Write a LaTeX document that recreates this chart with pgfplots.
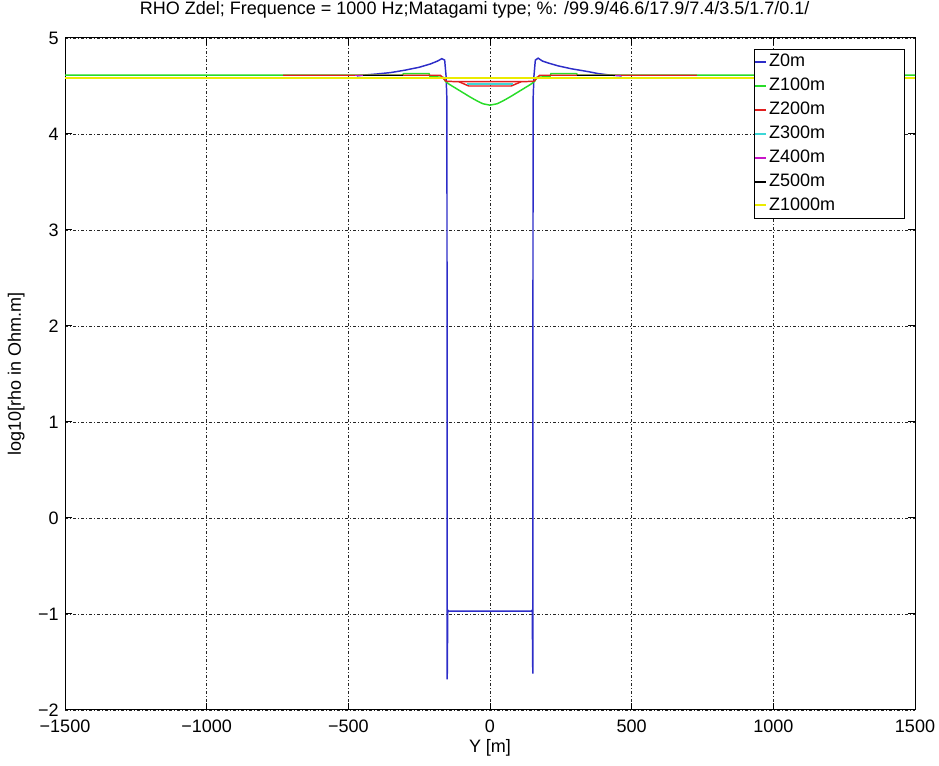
\documentclass[border=0pt]{standalone}
\usepackage{fontspec}
\setmainfont{Liberation Sans}
\usepackage{pgfplots}
\pgfplotsset{compat=1.18}
\definecolor{mblue}{RGB}{45,45,200}
\definecolor{mgreen}{RGB}{40,220,40}
\definecolor{mred}{RGB}{225,30,30}
\definecolor{mcyan}{RGB}{60,215,215}
\definecolor{mmag}{RGB}{200,20,200}
\definecolor{myellow}{RGB}{235,235,0}
\begin{document}
\fontsize{13.5}{16}\selectfont
\begin{tikzpicture}
\begin{axis}[
  scale only axis, width=637.5pt, height=504pt,
  xmin=-1500, xmax=1500, ymin=-2, ymax=5,
  xtick={-1500,-1000,-500,0,500,1000,1500},
  ytick={-2,-1,0,1,2,3,4,5},
  xticklabels={−1500,−1000,−500,0,500,1000,1500},
  yticklabels={−2,−1,0,1,2,3,4,5},
  tick align=inside, major tick length=5pt,
  xtick pos=both, ytick pos=both,
  grid=major,
  major grid style={black!85, line width=0.6pt, dash pattern=on 2.25pt off 1.5pt on 0.75pt off 1.5pt},
  axis line style={black, line width=0.75pt},
  every tick/.style={black, line width=0.75pt},
  xticklabel style={anchor=base, yshift=-17pt},
  title={RHO Zdel; Frequence = 1000 Hz;Matagami type; \%: /99.9/46.6/17.9/7.4/3.5/1.7/0.1/},
  title style={at={(axis description cs:0.482,1.0238)}, anchor=base},
  xlabel={Y [m]},
  xlabel style={at={(axis description cs:0.5,-0.0635)}, anchor=base},
  ylabel={log10[rho in Ohm.m]},
  ylabel style={at={(axis description cs:-0.0518,0.5)}, anchor=base, rotate=0},
  unbounded coords=jump,
  every axis plot/.append style={line width=1.1pt},
  legend image code/.code={\draw[#1,line width=1.5pt] (0pt,0pt) -- (8pt,0pt);},
  legend cell align=left,
  legend style={at={(axis description cs:0.9882,0.9836)}, anchor=north east,
    draw=black, line width=0.75pt, fill=white, inner xsep=0pt, inner ysep=3.5pt,
    row sep=5.9pt,
    nodes={inner ysep=0pt, inner xsep=1.5pt, text height=9.5pt, text depth=2.5pt, text width=100pt}},
]
% Z0m
\addplot[mblue] coordinates {
(-470,4.605) (-440,4.615) (-400,4.625) (-350,4.64) (-300,4.665) (-250,4.695) (-210,4.73)
(-185,4.76) (-170,4.785) (-160,4.77) (-155,4.6) (-152,4.35) (-151,-1.68) (-149,-0.96)
(-146,-0.97) (146,-0.97) (149,-0.96) (151,-1.62) (152,4.35) (155,4.6) (160,4.77) (170,4.79)
(185,4.76) (205,4.74) (240,4.71) (286,4.68) (346,4.65) (380,4.63) (420,4.615) (465,4.605)
};
\addlegendentry{Z0m}
% Z100m
\addplot[mgreen] coordinates {
(-1500,4.614) (-310,4.614) (-305,4.628) (-215,4.628) (-212,4.60) (-165,4.59) (-158,4.55)
(-145,4.52) (-120,4.475) (-95,4.43) (-70,4.385) (-46,4.345) (-25,4.315) (0,4.30)
(25,4.315) (46,4.345) (70,4.385) (95,4.43) (120,4.475) (145,4.52) (158,4.55) (165,4.59)
(212,4.60) (215,4.628) (305,4.628) (310,4.614) (1500,4.614)
};
\addlegendentry{Z100m}
% Z200m
\addplot[mred] coordinates {
(-730,4.612) (-175,4.612) (-165,4.58) (-155,4.55) (-120,4.545) (120,4.545) (155,4.55)
(165,4.58) (175,4.612) (730,4.612)
};
\addlegendentry{Z200m}
\addplot[mred, forget plot] coordinates {
(-110,4.545) (-75,4.50) (75,4.50) (110,4.545)
};
% Z300m
\addplot[mcyan] coordinates {
(-80,4.522) (80,4.522)
};
\addlegendentry{Z300m}
% Z400m
\addplot[mmag] coordinates {
(-476,4.612) (-448,4.612) (0,nan) (441,4.612) (462,4.612)
};
\addlegendentry{Z400m}
% Z500m
\addplot[black] coordinates {
(-448,4.61) (-307,4.61) (0,nan) (307,4.61) (441,4.61)
};
\addlegendentry{Z500m}
% Z1000m
\addplot[myellow] coordinates {
(-1500,4.585) (1500,4.585)
};
\addlegendentry{Z1000m}
\end{axis}
\pgfresetboundingbox
\path[use as bounding box] (-48.75pt,-42pt) rectangle (655.5pt,532.5pt);
\end{tikzpicture}
\end{document}
